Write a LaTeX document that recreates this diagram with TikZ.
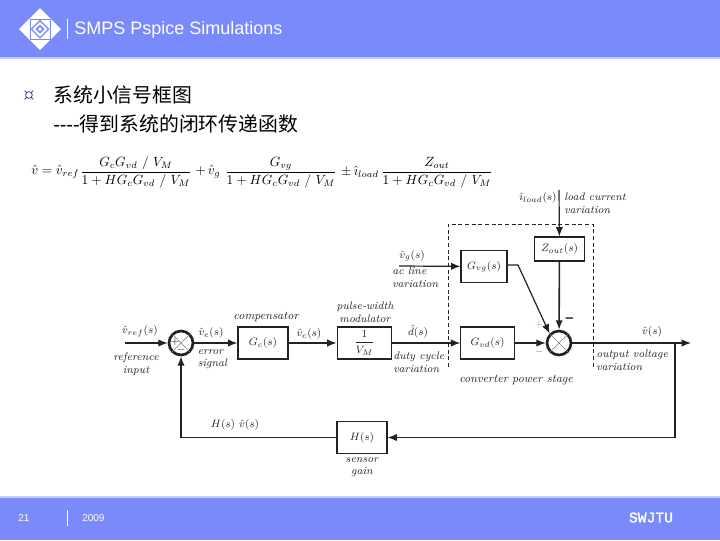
\documentclass[tikz,border=0pt]{standalone}
\usepackage{fontspec}
\usepackage{amsmath}
\setmainfont{Liberation Sans}
\newfontfamily\cjk{Noto Sans CJK SC}
\newfontfamily\lm{Latin Modern Roman}
\newfontfamily\monof{Liberation Mono}[FakeBold=2]
\usetikzlibrary{arrows.meta}
\definecolor{band}{HTML}{7A8AFB}
\definecolor{bandedge}{HTML}{C4CBF6}
\definecolor{ink}{HTML}{222222}
\tikzset{
  x=0.75pt,y=-0.75pt,
  block/.style={draw=ink,line width=0.9pt,fill=white,inner sep=0pt},
  junction/.style={circle,draw=ink,line width=2pt,fill=white,minimum size=18pt,inner sep=0pt},
  wire/.style={draw=ink,line width=0.9pt},
  sig/.style={wire,-{Latex[length=7pt,width=5.5pt]}},
  lab/.style={inner sep=0pt,font=\lm\itshape\fontsize{8.2}{9.6}\selectfont,text=ink,align=left},
  mth/.style={inner sep=0pt,font=\lm\fontsize{8.5}{10}\selectfont,text=ink},
  eq/.style={inner sep=0pt,font=\lm\fontsize{10}{12}\selectfont,text=black},
  white text/.style={inner sep=0pt,text=white},
}
\begin{document}
\begin{tikzpicture}
\useasboundingbox (0,0) rectangle (720,540);
% bands
\fill[band] (0,0) rectangle (720,58);
\fill[bandedge] (0,57) rectangle (720,58.5);
\fill[band] (0,497) rectangle (720,540);
\fill[bandedge] (0,496) rectangle (720,497.5);
% logo
\fill[white] (40,8) -- (61,29) -- (40,50) -- (19,29) -- cycle;
\draw[band,line width=0.6pt] (30,19) rectangle (50,39);
\fill[band] (40,19.5) -- (49.5,29) -- (40,38.5) -- (30.5,29) -- cycle;
\fill[white] (40,21.5) -- (47.5,29) -- (40,36.5) -- (32.5,29) -- cycle;
\fill[band] (40,24.5) -- (44.5,29) -- (40,33.5) -- (35.5,29) -- cycle;
\fill[white] (40,27) -- (42,29) -- (40,31) -- (38,29) -- cycle;
\draw[white,line width=0.7pt] (67.5,19) -- (67.5,39);
\node[white text,anchor=west,font=\fontsize{13.5}{15}\selectfont] (title) at (74,29.5) {SMPS Pspice Simulations};
% bullet and heading
\node[inner sep=0pt,text=blue!45!black,font=\lm\fontsize{15}{16}\selectfont] (bullet) at (29,96) {¤};
\node[inner sep=0pt,anchor=west,font=\cjk\fontsize{14.9}{17}\selectfont,text=black] (head1) at (53,95) {系统小信号框图};
\node[inner sep=0pt,anchor=west,font=\fontsize{14.9}{17}\selectfont,text=black] (head2) at (53,124) {-{}-{}-{}-{\cjk 得到系统的闭环传递函数}};
% equation
\node[eq,anchor=west] (eqa) at (31,172) {$\hat v=\hat v_{ref}$};
\node[eq] (f1) at (136,172.5) {$\dfrac{G_cG_{vd}\ /\ V_M}{1+HG_cG_{vd}\ /\ V_M}$};
\node[eq] (eqb) at (208,172) {$+\,\hat v_g$};
\node[eq] (f2) at (281,172.5) {$\dfrac{G_{vg}}{1+HG_cG_{vd}\ /\ V_M}$};
\node[eq] (eqc) at (360,172) {$\pm\,\hat\imath_{load}$};
\node[eq] (f3) at (437,172.5) {$\dfrac{Z_{out}}{1+HG_cG_{vd}\ /\ V_M}$};
% dashed enclosure
\coordinate (da) at (448,367);
\coordinate (db) at (448,224);
\coordinate (dc) at (593,224);
\coordinate (dd) at (593,367);
\draw[ink,densely dashed,line width=0.5pt] (da) -- (db) -- (dc) -- (dd);
% blocks
\node[block,minimum width=37.5pt,minimum height=24pt,mth] (gc) at (263,343) {$G_c(s)$};
\node[block,minimum width=41pt,minimum height=24pt,mth] (vm) at (364.5,343) {$\dfrac{1}{V_M}$};
\node[block,minimum width=40pt,minimum height=24pt,mth] (gvd) at (487.5,343) {$G_{vd}(s)$};
\node[block,minimum width=34.5pt,minimum height=23.5pt,mth] (gvg) at (484,266.5) {$G_{vg}(s)$};
\node[block,minimum width=37pt,minimum height=18pt,mth] (zout) at (559.5,249) {$Z_{out}(s)$};
\node[block,minimum width=37.5pt,minimum height=24.5pt,mth] (h) at (362,437.5) {$H(s)$};
% junctions
\node[junction] (s1) at (181,343) {};
\node[junction] (s2) at (559,343) {};
\draw[gray,line width=0.35pt] (s1.north west) -- (s1.south east) (s1.north east) -- (s1.south west);
\draw[gray,line width=0.35pt] (s2.north west) -- (s2.south east) (s2.north east) -- (s2.south west);
\node[mth,font=\lm\fontsize{8}{9}\selectfont] (s1p) at (175,342) {$+$};
\node[mth,font=\lm\fontsize{8}{9}\selectfont] (s1m) at (181,350) {$-$};
\node[mth,text=gray!70,font=\lm\fontsize{8}{9}\selectfont] (s2p) at (539,325) {$+$};
\node[mth,text=gray,font=\lm\fontsize{8}{9}\selectfont] (s2m) at (539,352) {$-$};
\node[inner sep=0pt,text=ink,font=\bfseries\fontsize{11}{11}\selectfont] (s2n) at (569.5,320.5) {–};
% free ends
\coordinate (ref) at (125,343);
\coordinate (vg) at (399,266);
\coordinate (il) at (559,190);
\coordinate (out) at (691,343);
\coordinate (tap) at (675,343);
\coordinate (tapd) at (675,437.5);
\coordinate (fbl) at (181,437.5);
\coordinate (bend) at (518,265);
% connectors
\draw[sig] (ref) -- (s1);
\draw[sig] (s1) -- (gc);
\draw[sig] (gc) -- (vm);
\draw[sig] (vm) -- (gvd);
\draw[sig] (gvd) -- (s2);
\draw[sig] (vg) -- (gvg);
\draw[sig] (il) -- (zout);
\draw[sig,line width=1.2pt] (zout) -- (s2);
\draw[sig] (gvg.east |- bend) -- (bend) -- (s2.north west);
\draw[sig] (s2) -- (out);
\draw[sig] (tap) -- (tapd) -- (h);
\draw[sig,line width=1.1pt] (h) -- (fbl) -- (s1);
% labels
\node[mth] (l1) at (140,331) {$\hat v_{ref}(s)$};
\node[lab,align=center,anchor=north] (l2) at (136,353) {reference\\input};
\node[mth] (l3) at (211,333) {$\hat v_e(s)$};
\node[lab,anchor=north west] (l4) at (197.5,349) {error\\signal};
\node[lab,anchor=south,font=\lm\itshape\fontsize{8.8}{10}\selectfont] (l5) at (266,322) {compensator};
\node[mth] (l6) at (309,334) {$\hat v_c(s)$};
\node[lab,align=center,anchor=south] (l7) at (365,323) {pulse-width\\modulator};
\node[mth] (l8) at (418,332) {$\hat d(s)$};
\node[lab,anchor=north west] (l9) at (393,352) {duty cycle\\variation};
\node[lab,anchor=north west,font=\lm\itshape\fontsize{8.8}{10}\selectfont] (l10) at (459,374.5) {converter power stage};
\node[mth,anchor=west] (l11) at (399,256) {$\hat v_g(s)$};
\node[lab,anchor=north west] (l12) at (392,267) {ac line\\variation};
\node[mth] (l13) at (538,198) {$\hat\imath_{load}(s)$};
\node[lab,anchor=north west] (l14) at (564,192.5) {load current\\variation};
\node[mth] (l15) at (652,331.5) {$\hat v(s)$};
\node[lab,anchor=north west] (l16) at (596,349.5) {output voltage\\variation};
\node[mth] (l17) at (235,424.5) {$H(s)\ \hat v(s)$};
\node[lab,align=center,anchor=north] (l18) at (362,457) {sensor\\gain};
% footer
\draw[white,line width=0.7pt] (67.5,510) -- (67.5,526);
\node[white text,font=\fontsize{7.5}{8}\selectfont] (pg) at (24,518) {21};
\node[white text,anchor=west,font=\fontsize{7.5}{8}\selectfont] (yr) at (82,518) {2009};
\node[white text,font=\monof\fontsize{11}{12}\selectfont] (sw) at (651,517.5) {SWJTU};
\end{tikzpicture}
\end{document}
